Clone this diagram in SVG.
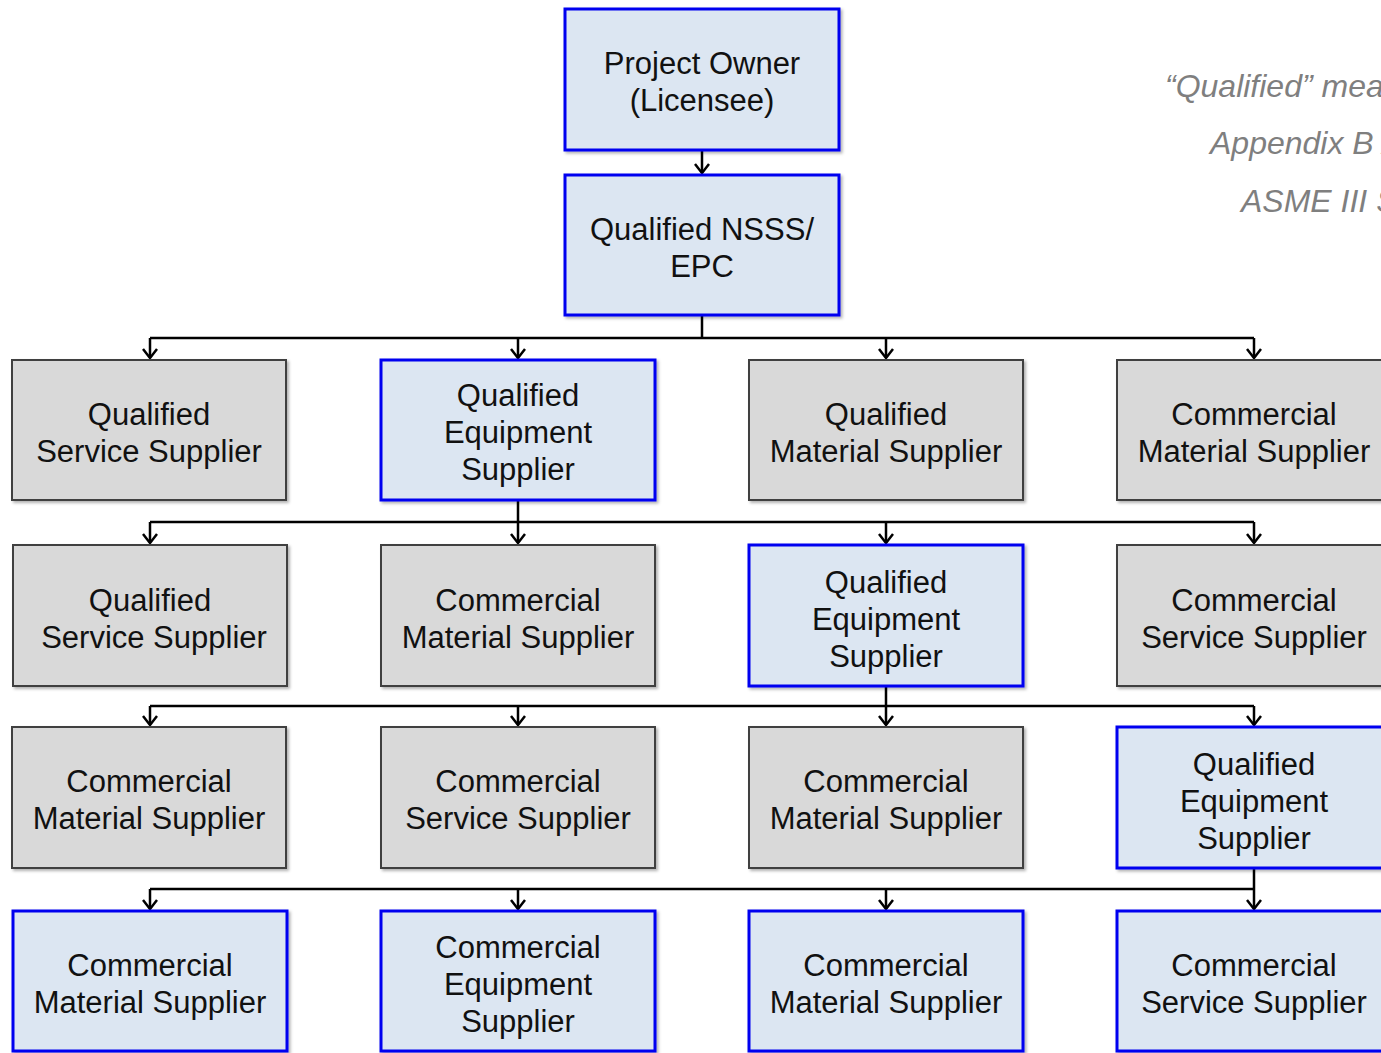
<svg xmlns="http://www.w3.org/2000/svg" width="1381" height="1053" viewBox="0 0 1381 1053">
<style>
.q{fill:#dce6f2;stroke:#0000f0;stroke-width:3}
.c{fill:#d9d9d9;stroke:#404040;stroke-width:2}
.t{font-family:"Liberation Sans",Arial,sans-serif;font-size:31px;fill:#111;text-anchor:middle}
.n{font-family:"Liberation Sans",Arial,sans-serif;font-size:32px;font-style:italic;fill:#7f7f7f}
.w{fill:none;stroke:#000;stroke-width:2.5}
</style>
<defs>
<filter id="sh" x="-5%" y="-5%" width="115%" height="115%">
<feDropShadow dx="2" dy="2" stdDeviation="1.5" flood-color="#000" flood-opacity="0.3"/>
</filter>
<marker id="ah" viewBox="0 0 12 18" refX="11" refY="9" markerWidth="12" markerHeight="18" markerUnits="userSpaceOnUse" orient="auto">
<path d="M2,2 L11,9 L2,16" fill="none" stroke="#000" stroke-width="2.5"/>
</marker>
</defs>
<rect width="1381" height="1053" fill="#fff"/>
<g id="connectors" class="w">
<path d="M702,150 V173" marker-end="url(#ah)"/>
<path d="M702,315 V338 M150,338 H1254"/>
<path d="M150,338 V358" marker-end="url(#ah)"/>
<path d="M518,338 V358" marker-end="url(#ah)"/>
<path d="M886,338 V358" marker-end="url(#ah)"/>
<path d="M1254,338 V358" marker-end="url(#ah)"/>
<path d="M518,500 V522 M150,522 H1254"/>
<path d="M150,522 V543" marker-end="url(#ah)"/>
<path d="M518,522 V543" marker-end="url(#ah)"/>
<path d="M886,522 V543" marker-end="url(#ah)"/>
<path d="M1254,522 V543" marker-end="url(#ah)"/>
<path d="M886,686 V706 M150,706 H1254"/>
<path d="M150,706 V725" marker-end="url(#ah)"/>
<path d="M518,706 V725" marker-end="url(#ah)"/>
<path d="M886,706 V725" marker-end="url(#ah)"/>
<path d="M1254,706 V725" marker-end="url(#ah)"/>
<path d="M1254,868 V889 M150,889 H1254"/>
<path d="M150,889 V909" marker-end="url(#ah)"/>
<path d="M518,889 V909" marker-end="url(#ah)"/>
<path d="M886,889 V909" marker-end="url(#ah)"/>
<path d="M1254,889 V909" marker-end="url(#ah)"/>
</g>
<g id="owner"><rect class="q" x="565" y="9" width="274" height="141" filter="url(#sh)"/><text class="t" x="702"><tspan x="702" y="74">Project Owner</tspan><tspan x="702" y="111">(Licensee)</tspan></text></g>
<g id="nsss"><rect class="q" x="565" y="175" width="274" height="140" filter="url(#sh)"/><text class="t"><tspan x="702" y="240">Qualified NSSS/</tspan><tspan x="702" y="277">EPC</tspan></text></g>

<g id="r1c1"><rect class="c" x="12" y="360" width="274" height="140" filter="url(#sh)"/><text class="t"><tspan x="149" y="425">Qualified</tspan><tspan x="149" y="462">Service Supplier</tspan></text></g>
<g id="r1c2"><rect class="q" x="381" y="360" width="274" height="140" filter="url(#sh)"/><text class="t"><tspan x="518" y="406">Qualified</tspan><tspan x="518" y="443">Equipment</tspan><tspan x="518" y="480">Supplier</tspan></text></g>
<g id="r1c3"><rect class="c" x="749" y="360" width="274" height="140" filter="url(#sh)"/><text class="t"><tspan x="886" y="425">Qualified</tspan><tspan x="886" y="462">Material Supplier</tspan></text></g>
<g id="r1c4"><rect class="c" x="1117" y="360" width="274" height="140" filter="url(#sh)"/><text class="t"><tspan x="1254" y="425">Commercial</tspan><tspan x="1254" y="462">Material Supplier</tspan></text></g>

<g id="r2c1"><rect class="c" x="13" y="545" width="274" height="141" filter="url(#sh)"/><text class="t"><tspan x="150" y="611">Qualified</tspan><tspan x="154" y="648">Service Supplier</tspan></text></g>
<g id="r2c2"><rect class="c" x="381" y="545" width="274" height="141" filter="url(#sh)"/><text class="t"><tspan x="518" y="611">Commercial</tspan><tspan x="518" y="648">Material Supplier</tspan></text></g>
<g id="r2c3"><rect class="q" x="749" y="545" width="274" height="141" filter="url(#sh)"/><text class="t"><tspan x="886" y="593">Qualified</tspan><tspan x="886" y="630">Equipment</tspan><tspan x="886" y="667">Supplier</tspan></text></g>
<g id="r2c4"><rect class="c" x="1117" y="545" width="274" height="141" filter="url(#sh)"/><text class="t"><tspan x="1254" y="611">Commercial</tspan><tspan x="1254" y="648">Service Supplier</tspan></text></g>

<g id="r3c1"><rect class="c" x="12" y="727" width="274" height="141" filter="url(#sh)"/><text class="t"><tspan x="149" y="792">Commercial</tspan><tspan x="149" y="829">Material Supplier</tspan></text></g>
<g id="r3c2"><rect class="c" x="381" y="727" width="274" height="141" filter="url(#sh)"/><text class="t"><tspan x="518" y="792">Commercial</tspan><tspan x="518" y="829">Service Supplier</tspan></text></g>
<g id="r3c3"><rect class="c" x="749" y="727" width="274" height="141" filter="url(#sh)"/><text class="t"><tspan x="886" y="792">Commercial</tspan><tspan x="886" y="829">Material Supplier</tspan></text></g>
<g id="r3c4"><rect class="q" x="1117" y="727" width="274" height="141" filter="url(#sh)"/><text class="t"><tspan x="1254" y="775">Qualified</tspan><tspan x="1254" y="812">Equipment</tspan><tspan x="1254" y="849">Supplier</tspan></text></g>

<g id="r4c1"><rect class="q" x="13" y="911" width="274" height="140" filter="url(#sh)"/><text class="t"><tspan x="150" y="976">Commercial</tspan><tspan x="150" y="1013">Material Supplier</tspan></text></g>
<g id="r4c2"><rect class="q" x="381" y="911" width="274" height="140" filter="url(#sh)"/><text class="t"><tspan x="518" y="958">Commercial</tspan><tspan x="518" y="995">Equipment</tspan><tspan x="518" y="1032">Supplier</tspan></text></g>
<g id="r4c3"><rect class="q" x="749" y="911" width="274" height="140" filter="url(#sh)"/><text class="t"><tspan x="886" y="976">Commercial</tspan><tspan x="886" y="1013">Material Supplier</tspan></text></g>
<g id="r4c4"><rect class="q" x="1117" y="911" width="274" height="140" filter="url(#sh)"/><text class="t"><tspan x="1254" y="976">Commercial</tspan><tspan x="1254" y="1013">Service Supplier</tspan></text></g>

<g id="note">
<text class="n" x="1165" y="97">“Qualified” mea</text>
<text class="n" x="1210" y="154">Appendix B /</text>
<text class="n" x="1241" y="212">ASME III S</text>
</g>
</svg>
